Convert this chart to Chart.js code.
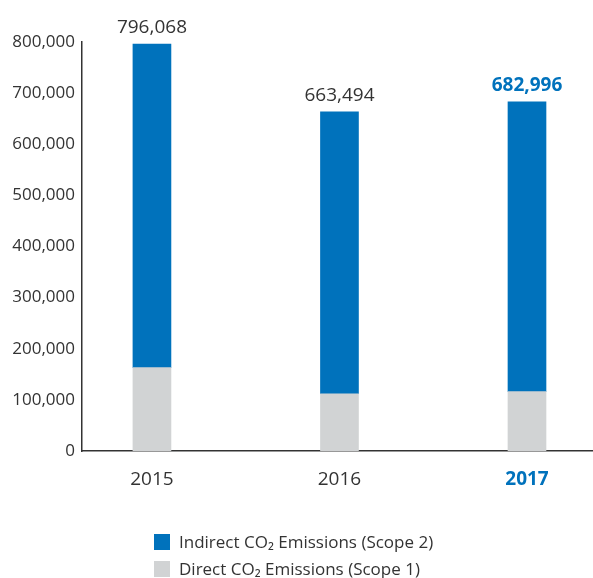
<!DOCTYPE html>
<html>
<head>
<meta charset="utf-8">
<script src="https://cdn.jsdelivr.net/npm/chart.js@4/dist/chart.umd.min.js"></script>
<style>
  html, body { margin: 0; padding: 0; background: #fff; }
  #wrap { position: relative; width: 593px; height: 578px; }
  #legend { position: absolute; left: 154px; top: 528px; font-family: "Open Sans", sans-serif; font-size: 17px; line-height: 20px; color: #333; }
  .item { display: flex; align-items: center; height: 27px; }
  .box { width: 16px; height: 16px; margin-right: 9px; }
</style>
</head>
<body>
<div id="wrap">
  <canvas id="co2Chart" width="593" height="578"></canvas>
  <div id="legend"></div>
</div>
<script>
// data
const years = [2015, 2016, 2017];
const directValues = [163000, 112000, 116000];      // Scope 1 (grey)
const indirectValues = [633068, 551494, 566996];    // Scope 2 (blue)
const yTicks = [0, 100000, 200000, 300000, 400000, 500000, 600000, 700000, 800000];
const highlightYear = 2017;

const BLUE = "#0072bc";
const GREY = "#d1d3d4";
const TEXT = "#333333";
const FONT = "'Open Sans', sans-serif";

const fmt = (v) => v.toLocaleString("en-US");

// tổng ở trên mỗi cột
const totalLabels = {
  id: "totalLabels",
  afterDatasetsDraw(chart) {
    const ctx = chart.ctx;
    const meta = chart.getDatasetMeta(1);
    ctx.save();
    ctx.textAlign = "center";
    ctx.textBaseline = "alphabetic";
    meta.data.forEach((bar, i) => {
      const total = directValues[i] + indirectValues[i];
      const hot = years[i] === highlightYear;
      ctx.fillStyle = hot ? BLUE : TEXT;
      ctx.font = (hot ? "bold " : "") + "19px " + FONT;
      ctx.fillText(fmt(total), bar.x, bar.y - 11);
    });
    ctx.restore();
  },
};

const chart = new Chart(document.getElementById("co2Chart").getContext("2d"), {
  type: "bar",
  data: {
    datasets: [
      {
        label: "Direct CO₂ Emissions (Scope 1)",
        data: years.map((y, i) => ({ x: y, y: directValues[i] })),
        backgroundColor: GREY,
        barThickness: 38,
      },
      {
        label: "Indirect CO₂ Emissions (Scope 2)",
        data: years.map((y, i) => ({ x: y, y: indirectValues[i] })),
        backgroundColor: BLUE,
        barThickness: 38,
      },
    ],
  },
  options: {
    responsive: false,
    animation: false,
    layout: { padding: { top: 42, right: 0, left: 0, bottom: 0 } },
    plugins: { legend: { display: false }, tooltip: { enabled: false } },
    scales: {
      x: {
        type: "linear",
        stacked: true,
        offset: false,
        min: 2014.627,
        max: 2017.352,
        grid: { display: false, drawTicks: false, offset: false },
        border: { display: true, color: TEXT, width: 1.5 },
        afterFit: (s) => { s.height = 127; },
        afterBuildTicks: (s) => { s.ticks = years.map((v) => ({ value: v })); },
        ticks: {
          padding: 17,
          callback: (v) => String(v),
          color: (c) => (c.tick && c.tick.value === highlightYear ? BLUE : TEXT),
          font: (c) => ({ family: FONT, size: 19, weight: c.tick && c.tick.value === highlightYear ? "bold" : "normal" }),
        },
      },
      y: {
        stacked: true,
        min: 0,
        max: 800000,
        grid: { display: false, drawTicks: false },
        border: { display: true, color: TEXT, width: 1.5 },
        afterFit: (s) => { s.width = 82; },
        afterBuildTicks: (s) => { s.ticks = yTicks.map((v) => ({ value: v })); },
        ticks: {
          padding: 7,
          color: TEXT,
          font: { family: FONT, size: 17 },
          callback: (v) => fmt(v),
        },
      },
    },
  },
  plugins: [totalLabels],
});

// legend (Scope 2 first, như hình)
const legend = document.getElementById("legend");
chart.data.datasets.slice().reverse().forEach((ds) => {
  const row = document.createElement("div");
  row.className = "item";
  row.innerHTML = '<span class="box" style="background:' + ds.backgroundColor + '"></span><span>' + ds.label + "</span>";
  legend.appendChild(row);
});
</script>
</body>
</html>
